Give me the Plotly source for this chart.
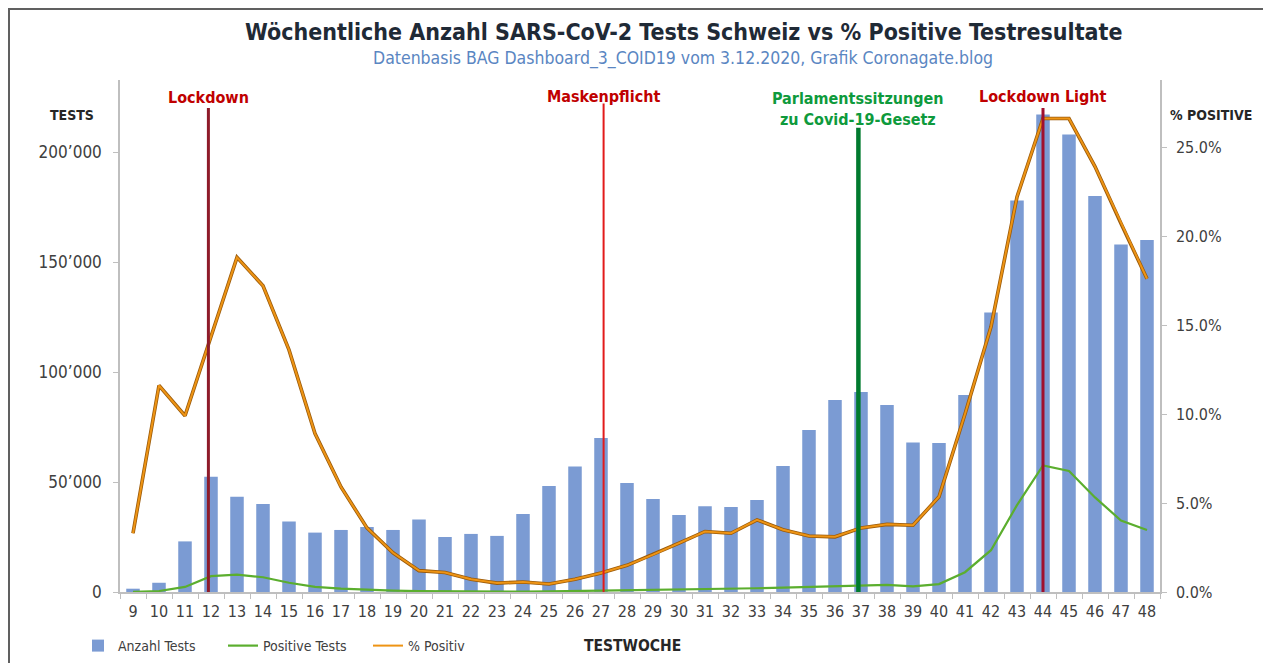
import plotly.graph_objects as go

weeks = list(range(9, 49))
tests = [1500, 4200, 23000, 52400, 43300, 40000, 32000, 27000, 28200, 29500,
         28200, 33000, 25000, 26400, 25500, 35500, 48200, 57000, 70000, 49500,
         42300, 35000, 39000, 38600, 41800, 57300, 73600, 87300, 90900, 85000,
         68000, 67700, 89500, 127000, 178000, 217000, 208000, 180000, 158000, 160000]
positive = [50, 450, 2300, 7200, 7900, 6700, 4200, 2300, 1500, 1000,
            600, 400, 300, 250, 200, 200, 250, 400, 700, 750,
            880, 960, 1300, 1300, 1700, 2000, 2300, 2700, 3200, 3200,
            2550, 3600, 9000, 19000, 39500, 57500, 55000, 43000, 32500, 28200]
pct = [3.3, 11.6, 9.9, 14.4, 18.8, 17.2, 13.6, 8.9, 5.9, 3.6,
       2.2, 1.2, 1.1, 0.72, 0.5, 0.56, 0.45, 0.72, 1.07, 1.5,
       2.1, 2.75, 3.4, 3.3, 4.05, 3.5, 3.15, 3.1, 3.6, 3.8,
       3.75, 5.35, 10.0, 14.9, 22.2, 26.6, 26.6, 23.9, 20.7, 17.6]
pct_frac = [p / 100 for p in pct]

left_ticks = [0, 50000, 100000, 150000, 200000]
left_ticktext = ["0", "50’000", "100’000", "150’000", "200’000"]
right_ticks = [0, 0.05, 0.10, 0.15, 0.20, 0.25]

events = [
    {"week": 11.9, "label": "Lockdown", "text_color": "#C00000", "line_color": "#8E1B2A", "width": 3, "top": 220000, "ty": 97},
    {"week": 27.1, "label": "Maskenpflicht", "text_color": "#C00000", "line_color": "#E21B1B", "width": 2, "top": 222000, "ty": 96},
    {"week": 36.9, "label": "Parlamentssitzungen<br>zu Covid-19-Gesetz", "text_color": "#0E9A3C", "line_color": "#007A2E", "width": 4.5, "top": 211000, "ty": 109},
    {"week": 44, "label": "Lockdown Light", "text_color": "#C00000", "line_color": "#A0102E", "width": 3, "top": 220000, "ty": 96},
]

FONT = "Liberation Sans Narrow, DejaVu Sans Condensed, Arial Narrow, sans-serif"
TXT = "#404040"

OFF = 8  # page body margin
W, H = 1271 - OFF, 663 - OFF
L, T = 120 - OFF, 80 - OFF
PW, PH = 1040, 512
R = W - L - PW
B = H - T - PH


def px(x):
    return (x - OFF - L) / PW


def py(y):
    return (T + PH - (y - OFF)) / PH


fig = go.Figure()
fig.add_trace(go.Bar(x=weeks, y=tests, name="Anzahl Tests", marker_color="#7B9BD3",
                     marker_line_width=0, width=0.52))
fig.add_trace(go.Scatter(x=weeks, y=positive, name="Positive Tests", mode="lines",
                         line=dict(color="#5BAE2E", width=2.2)))
fig.add_trace(go.Scatter(x=weeks, y=pct_frac, yaxis="y2", mode="lines", showlegend=False,
                         hoverinfo="skip", line=dict(color="#9A5A0A", width=3.6)))
fig.add_trace(go.Scatter(x=weeks, y=pct_frac, yaxis="y2", name="% Positiv", mode="lines",
                         line=dict(color="#EE9414", width=2.0)))

shapes = []
annotations = []
for ev in events:
    shapes.append(dict(type="line", xref="x", yref="y", x0=ev["week"], x1=ev["week"],
                       y0=-3500, y1=ev["top"], line=dict(color=ev["line_color"], width=ev["width"])))
    annotations.append(dict(xref="x", yref="paper", x=ev["week"], y=py(ev["ty"]),
                            text="<b>" + ev["label"] + "</b>", showarrow=False,
                            font=dict(family=FONT, size=16, color=ev["text_color"]),
                            yanchor="middle", xanchor="center"))

# frame of the picture (top and left dark edge)
shapes += [
    dict(type="line", xref="paper", yref="paper", x0=px(OFF), x1=px(1271), y0=py(OFF + 1), y1=py(OFF + 1),
         line=dict(color="#606060", width=2)),
    dict(type="line", xref="paper", yref="paper", x0=px(OFF + 1), x1=px(OFF + 1), y0=py(OFF), y1=py(663),
         line=dict(color="#606060", width=2)),
]


def label(x, y, text, size, color, bold=False):
    return dict(xref="paper", yref="paper", x=px(x), y=py(y), showarrow=False,
                text=("<b>" + text + "</b>") if bold else text,
                xanchor="center", yanchor="middle",
                font=dict(family=FONT, size=size, color=color))


annotations += [
    label(683, 32, "Wöchentliche Anzahl SARS-CoV-2 Tests Schweiz vs % Positive Testresultate", 23, "#1F2A36", True),
    label(683, 58, "Datenbasis BAG Dashboard_3_COID19 vom 3.12.2020, Grafik Coronagate.blog", 17.5, "#5A86C2"),
    label(72, 115, "TESTS", 14, "#262626", True),
    label(1211, 115, "% POSITIVE", 14, "#262626", True),
    label(632, 646, "TESTWOCHE", 15.5, "#262626", True),
]

fig.update_layout(
    width=W, height=H,
    margin=dict(l=L, r=R, t=T, b=B, autoexpand=False),
    paper_bgcolor="white", plot_bgcolor="white",
    font=dict(family=FONT, size=15, color=TXT),
    showlegend=True,
    legend=dict(orientation="h", x=px(78), y=py(646), xanchor="left", yanchor="middle",
                font=dict(family=FONT, size=14, color=TXT), itemwidth=30,
                entrywidth=100, entrywidthmode="pixels",
                bgcolor="rgba(0,0,0,0)", traceorder="normal"),
    bargap=0.45,
    xaxis=dict(range=[8.5, 48.5], tickmode="array", tickvals=weeks, ticktext=[str(w) for w in weeks],
               ticks="", showgrid=False, zeroline=False, showline=True, linecolor="#BFBFBF", linewidth=1.5,
               tickfont=dict(family=FONT, size=16, color=TXT), ticklabelstandoff=4,
               minor=dict(tickmode="array", tickvals=[w - 0.5 for w in weeks] + [48.5], ticks="outside",
                          ticklen=5, tickcolor="#BFBFBF", showgrid=False)),
    yaxis=dict(range=[0, PH / 2.2 * 1000], tickmode="array", tickvals=left_ticks, ticktext=left_ticktext,
               ticks="outside", ticklen=5, tickcolor="#BFBFBF", showgrid=False, zeroline=False,
               showline=True, linecolor="#BFBFBF", linewidth=1.5, ticklabelstandoff=8,
               tickfont=dict(family=FONT, size=17, color=TXT)),
    yaxis2=dict(overlaying="y", side="right", range=[0, PH / 17.8 / 100], tickmode="array",
                tickvals=right_ticks, tickformat=".1%", ticks="outside", ticklen=5, tickcolor="#BFBFBF",
                showgrid=False, zeroline=False, showline=True, linecolor="#BFBFBF", linewidth=1.5,
                ticklabelstandoff=6, tickfont=dict(family=FONT, size=16, color=TXT)),
    shapes=shapes,
    annotations=annotations,
)

fig.write_html("out.html")
